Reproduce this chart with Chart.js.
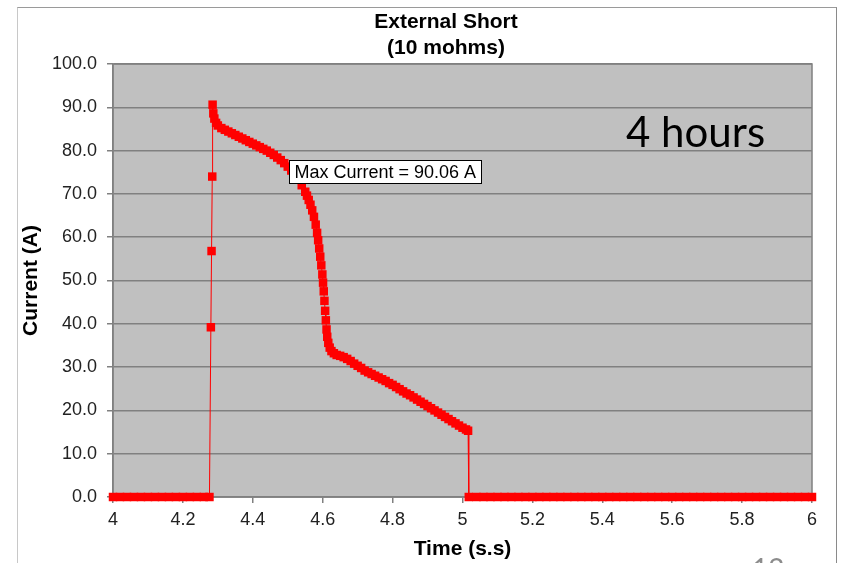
<!DOCTYPE html>
<html>
<head>
<meta charset="utf-8">
<script src="https://cdn.jsdelivr.net/npm/chart.js@4"></script>
<style>
  html, body { margin: 0; padding: 0; background: #ffffff; overflow: hidden; }
  #wrap { position: relative; width: 846px; height: 563px; overflow: hidden; }
  #frame { position: absolute; left: 17px; top: 7px; width: 818px; height: 700px;
           border-top: 1px solid #9a9a9a; border-left: 1px solid #c8c8c8; border-right: 1px solid #8a8a8a; }
  canvas { position: absolute; left: 0; top: 0; }
</style>
</head>
<body>
<div id="wrap">
  <div id="frame"></div>
  <canvas id="c" width="846" height="563"></canvas>
</div>
<script>
// ---- data ----
const timeS = [
  4.00, 4.02, 4.04, 4.06, 4.08, 4.10, 4.12, 4.14, 4.16, 4.18, 4.20, 4.22, 4.24, 4.26, 4.276,
  4.280, 4.282, 4.284, 4.285, 4.287, 4.290, 4.295, 4.300, 4.310, 4.320, 4.330, 4.340, 4.350,
  4.360, 4.370, 4.380, 4.390, 4.400, 4.410, 4.420, 4.430, 4.440, 4.450, 4.460, 4.470, 4.480,
  4.490, 4.500, 4.510, 4.520, 4.530, 4.540, 4.550, 4.555, 4.560, 4.565, 4.570, 4.575, 4.580,
  4.584, 4.587, 4.590, 4.593, 4.596, 4.599, 4.601, 4.603, 4.605, 4.607, 4.609, 4.611, 4.613,
  4.616, 4.620, 4.625, 4.632, 4.640, 4.650, 4.660, 4.670, 4.680, 4.690, 4.700, 4.710, 4.720,
  4.730, 4.740, 4.750, 4.760, 4.770, 4.780, 4.790, 4.800, 4.810, 4.820, 4.830, 4.840, 4.850,
  4.860, 4.870, 4.880, 4.890, 4.900, 4.910, 4.920, 4.930, 4.940, 4.950, 4.960, 4.970, 4.980,
  4.990, 5.000, 5.010, 5.016,
  5.018, 5.04, 5.06, 5.08, 5.10, 5.12, 5.14, 5.16, 5.18, 5.20, 5.22, 5.24, 5.26, 5.28, 5.30,
  5.32, 5.34, 5.36, 5.38, 5.40, 5.42, 5.44, 5.46, 5.48, 5.50, 5.52, 5.54, 5.56, 5.58, 5.60,
  5.62, 5.64, 5.66, 5.68, 5.70, 5.72, 5.74, 5.76, 5.78, 5.80, 5.82, 5.84, 5.86, 5.88, 5.90,
  5.92, 5.94, 5.96, 5.98, 6.00
];
const currentA = [
  0, 0, 0, 0, 0, 0, 0, 0, 0, 0, 0, 0, 0, 0, 0,
  39.2, 56.8, 74.0, 90.6, 88.6, 87.4, 86.4, 85.8, 85.2, 84.8, 84.4, 84.0, 83.6,
  83.2, 82.8, 82.4, 82.0, 81.6, 81.2, 80.8, 80.4, 80.0, 79.5, 79.0, 78.4, 77.8,
  77.1, 76.3, 75.4, 74.4, 73.3, 72.0, 70.5, 69.6, 68.6, 67.5, 66.2, 64.7, 62.9,
  61.0, 59.3, 57.4, 55.5, 53.5, 51.4, 49.5, 47.5, 45.3, 43.0, 40.8, 38.7, 37.0,
  35.6, 34.5, 33.7, 33.2, 32.8, 32.6, 32.3, 31.9, 31.4, 30.8, 30.3, 29.8, 29.2,
  28.8, 28.4, 28.0, 27.6, 27.2, 26.8, 26.3, 25.9, 25.4, 24.9, 24.4, 23.9, 23.5,
  23.0, 22.5, 22.0, 21.5, 21.0, 20.5, 20.0, 19.5, 19.0, 18.5, 18.0, 17.5, 17.0,
  16.5, 16.0, 15.6, 15.3,
  0, 0, 0, 0, 0, 0, 0, 0, 0, 0, 0, 0, 0, 0, 0,
  0, 0, 0, 0, 0, 0, 0, 0, 0, 0, 0, 0, 0, 0, 0,
  0, 0, 0, 0, 0, 0, 0, 0, 0, 0, 0, 0, 0, 0, 0,
  0, 0, 0, 0, 0
];
const xTickLabels = ['4', '4.2', '4.4', '4.6', '4.8', '5', '5.2', '5.4', '5.6', '5.8', '6'];
const yTickLabels = ['0.0', '10.0', '20.0', '30.0', '40.0', '50.0', '60.0', '70.0', '80.0', '90.0', '100.0'];
const chartTitle = ['External Short', '(10 mohms)'];
const xTitle = 'Time (s.s)';
const yTitle = 'Current (A)';
const noteText = 'Max Current = 90.06 A';
const noteAnchor = { x: 4.503, y: 77.8 };
const sideText = '4 hours';
const slideNumber = '12';

const FONT = "'Liberation Sans', Arial, sans-serif";

const points = timeS.map((t, i) => ({ x: t, y: currentA[i] }));

const decorPlugin = {
  id: 'decor',
  beforeDraw(chart) {
    const { ctx, chartArea: a } = chart;
    ctx.save();
    ctx.fillStyle = '#c0c0c0';
    ctx.fillRect(a.left, a.top, a.right - a.left, a.bottom - a.top);
    ctx.restore();
  },
  beforeDatasetsDraw(chart) {
    const { ctx, chartArea: a } = chart;
    ctx.save();
    ctx.strokeStyle = '#808080';
    ctx.lineWidth = 1.5;
    ctx.strokeRect(a.left, a.top, a.right - a.left, a.bottom - a.top);
    ctx.restore();
  },
  afterDatasetsDraw(chart) {
    const { ctx, scales } = chart;
    ctx.save();
    // annotation box
    ctx.font = '18px ' + FONT;
    const bx = Math.round(scales.x.getPixelForValue(noteAnchor.x)) + 0.5;
    const by = Math.round(scales.y.getPixelForValue(noteAnchor.y)) + 0.5;
    const w = Math.round(ctx.measureText(noteText).width) + 10;
    const h = 23;
    ctx.fillStyle = '#ffffff';
    ctx.fillRect(bx, by, w, h);
    ctx.strokeStyle = '#000000';
    ctx.lineWidth = 1;
    ctx.strokeRect(bx, by, w, h);
    ctx.fillStyle = '#000000';
    ctx.textBaseline = 'middle';
    ctx.textAlign = 'left';
    ctx.fillText(noteText, bx + 5, by + h / 2 + 1);

    // chart title
    ctx.font = 'bold 21px ' + FONT;
    ctx.textAlign = 'center';
    ctx.fillText(chartTitle[0], 446, 22);
    ctx.fillText(chartTitle[1], 446, 48);

    // side note
    ctx.font = '42px Lato, sans-serif';
    ctx.textAlign = 'left';
    ctx.textBaseline = 'alphabetic';
    ctx.fillText(sideText, 626, 147);

    // slide number (cut by page bottom)
    ctx.font = '28px Lato, sans-serif';
    ctx.fillStyle = '#8c8c8c';
    ctx.textBaseline = 'top';
    ctx.fillText(slideNumber, 752, 556);
    ctx.restore();
  }
};

new Chart(document.getElementById('c'), {
  type: 'scatter',
  data: {
    datasets: [{
      data: points,
      showLine: true,
      borderColor: '#ff0000',
      borderWidth: 1,
      backgroundColor: '#ff0000',
      pointStyle: 'rect',
      pointRadius: 6,
      pointBorderWidth: 0,
      pointBackgroundColor: '#ff0000',
      tension: 0,
      clip: false
    }]
  },
  options: {
    responsive: false,
    animation: false,
    devicePixelRatio: 1,
    layout: { padding: { left: 17, right: 34, top: 64, bottom: 0 } },
    plugins: { legend: { display: false }, tooltip: { enabled: false }, title: { display: false } },
    scales: {
      x: {
        type: 'linear', min: 4, max: 6,
        afterFit(s) { s.height = 66; },
        ticks: {
          stepSize: 0.2, autoSkip: false, maxRotation: 0, padding: 6,
          color: '#222', font: { family: FONT, size: 18 },
          callback: (v, i) => xTickLabels[i]
        },
        grid: { drawOnChartArea: false, drawTicks: true, tickLength: 6, color: '#808080', lineWidth: 1.5 },
        border: { color: '#808080', width: 1.5 },
        title: { display: true, text: xTitle, color: '#000', font: { family: FONT, size: 21, weight: 'bold' }, padding: { top: 0, bottom: 1 } }
      },
      y: {
        type: 'linear', min: 0, max: 100,
        afterFit(s) { s.width = 96; },
        ticks: {
          stepSize: 10, padding: 10,
          color: '#222', font: { family: FONT, size: 18 },
          callback: (v, i) => yTickLabels[i]
        },
        grid: { drawTicks: true, tickLength: 6, color: '#808080', lineWidth: 1.5 },
        border: { color: '#808080', width: 1.5 },
        title: { display: true, text: yTitle, color: '#000', font: { family: FONT, size: 21, weight: 'bold' }, padding: { top: 2, bottom: 0 } }
      }
    }
  },
  plugins: [decorPlugin]
});
</script>
</body>
</html>
